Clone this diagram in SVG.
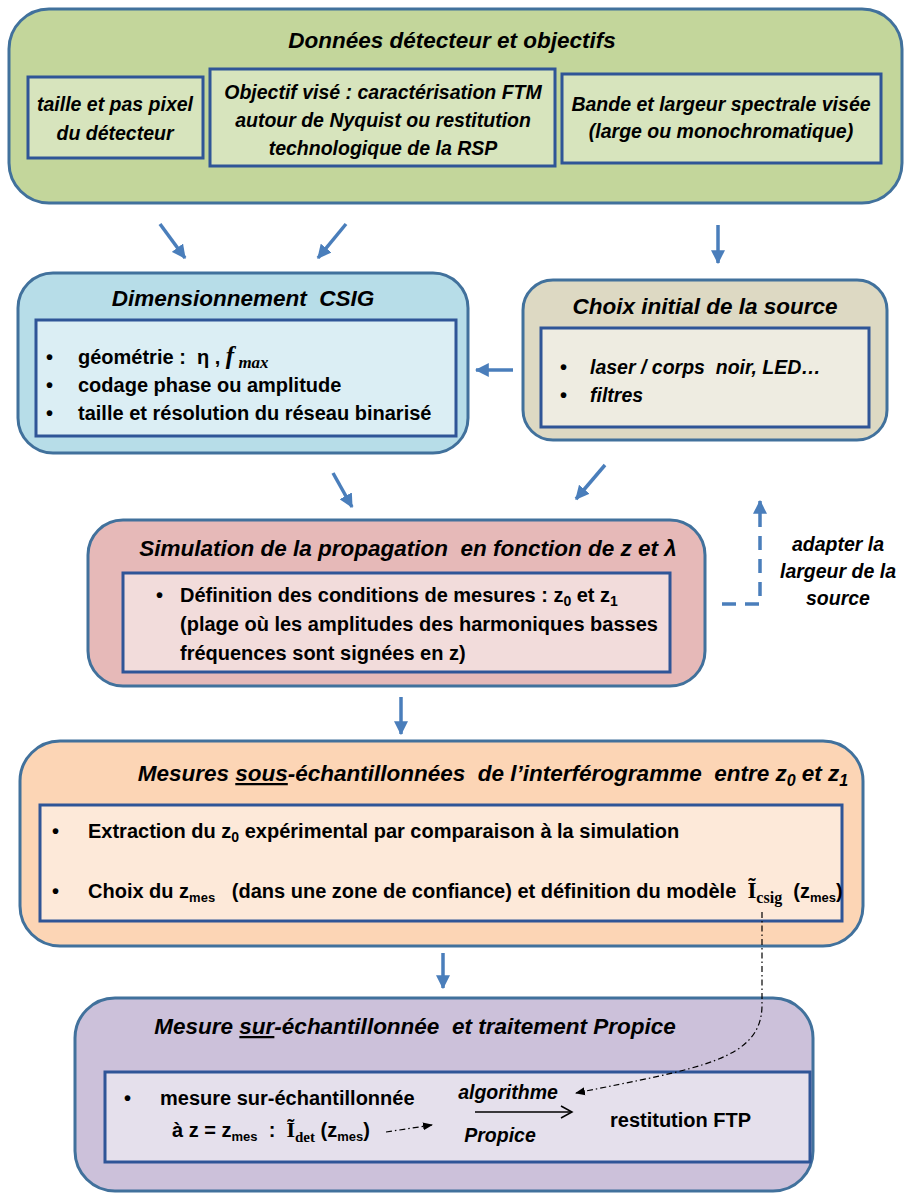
<svg xmlns="http://www.w3.org/2000/svg" width="910" height="1193" viewBox="0 0 910 1193" xml:space="preserve">
<defs>
<style>
.outer{stroke:#41719c;stroke-width:3}
.inner{stroke:#2f5597;stroke-width:3}
text{font-family:"Liberation Sans",Arial,sans-serif;fill:#000;white-space:pre}
.t{font-weight:bold;font-style:italic;font-size:22.5px;text-anchor:middle}
.it{font-weight:bold;font-style:italic;font-size:19.5px;text-anchor:middle}
.b{font-weight:bold;font-size:20px}
.bi{font-weight:bold;font-style:italic;font-size:19.5px}
.m{font-family:"Liberation Serif","DejaVu Serif",serif}
.blue{stroke:#4a7ebb;stroke-width:3.5;fill:none}
.dd{stroke:#000;stroke-width:1.2;fill:none;stroke-dasharray:6 3 1.5 3}
</style>
<marker id="bh" markerUnits="userSpaceOnUse" markerWidth="14" markerHeight="14" refX="11" refY="6" orient="auto" viewBox="0 0 12 12">
<path d="M0,0 L12,6 L0,12 Z" fill="#4a7ebb"/>
</marker>
<marker id="kh" markerUnits="userSpaceOnUse" markerWidth="10" markerHeight="10" refX="9" refY="4" orient="auto" viewBox="0 0 10 8">
<path d="M0,0 L10,4 L0,8 Z" fill="#000"/>
</marker>
<marker id="oh" markerUnits="userSpaceOnUse" markerWidth="14" markerHeight="14" refX="12" refY="7" orient="auto" viewBox="0 0 14 14">
<path d="M1,1 L12,7 L1,13" fill="none" stroke="#000" stroke-width="1.5"/>
</marker>
</defs>
<rect width="910" height="1193" fill="#fff"/>
<g id="donnees">
<rect class="outer" x="9" y="9" width="893" height="194" rx="40" fill="#c3d69b"/>
<text class="t" x="452" y="48">Données détecteur et objectifs</text>
<rect class="inner" x="28" y="77" width="175" height="81" fill="#d7e4bd"/>
<text class="it" x="115" y="111">taille et pas pixel</text>
<text class="it" x="115" y="140">du détecteur</text>
<rect class="inner" x="210" y="69" width="345" height="97" fill="#d7e4bd"/>
<text class="it" x="383" y="99">Objectif visé : caractérisation FTM</text>
<text class="it" x="383" y="127">autour de Nyquist ou restitution</text>
<text class="it" x="383" y="155">technologique de la RSP</text>
<rect class="inner" x="562" y="74" width="319" height="89" fill="#d7e4bd"/>
<text class="it" x="721" y="111">Bande et largeur spectrale visée</text>
<text class="it" x="721" y="138">(large ou monochromatique)</text>
</g>
<g id="csig">
<rect class="outer" x="18" y="273" width="450" height="180" rx="35" fill="#b7dde8"/>
<text class="t" x="243" y="306">Dimensionnement  CSIG</text>
<rect class="inner" x="36" y="320" width="420" height="116" fill="#dbeef4"/>
<text class="b" x="46" y="364">•</text>
<text class="b" x="78" y="364">géométrie :  η , <tspan class="m" font-style="italic" font-size="25">f</tspan><tspan class="m" font-style="italic" font-size="17" dy="4"> max</tspan></text>
<text class="b" x="46" y="392">•</text>
<text class="b" x="78" y="392">codage phase ou amplitude</text>
<text class="b" x="46" y="420">•</text>
<text class="b" x="78" y="420">taille et résolution du réseau binarisé</text>
</g>
<g id="source">
<rect class="outer" x="523" y="280" width="364" height="160" rx="30" fill="#ddd9c3"/>
<text class="t" x="705" y="314">Choix initial de la source</text>
<rect class="inner" x="541" y="328" width="328" height="99" fill="#eeece1"/>
<text class="b" x="560" y="374">•</text>
<text class="bi" x="590" y="374" font-size="18.5">laser / corps  noir, LED…</text>
<text class="b" x="560" y="402">•</text>
<text class="bi" x="590" y="402" font-size="18.5">filtres</text>
</g>
<g id="simulation">
<rect class="outer" x="88" y="520" width="617" height="166" rx="35" fill="#e6b9b8"/>
<text class="t" x="408" y="556" font-size="23">Simulation de la propagation  en fonction de z et λ</text>
<rect class="inner" x="123" y="573" width="547" height="99" fill="#f2dcdb"/>
<text class="b" x="156" y="602">•</text>
<text class="b" x="180" y="602">Définition des conditions de mesures : z<tspan font-size="14" dy="4">0</tspan><tspan dy="-4"> et z</tspan><tspan font-size="14" dy="4">1</tspan></text>
<text class="b" x="180" y="631">(plage où les amplitudes des harmoniques basses</text>
<text class="b" x="180" y="660">fréquences sont signées en z)</text>
</g>
<g id="adapter">
<text class="bi" x="838" y="551" text-anchor="middle">adapter la</text>
<text class="bi" x="838" y="578" text-anchor="middle">largeur de la</text>
<text class="bi" x="838" y="605" text-anchor="middle">source</text>
</g>
<g id="sous-echantillonnees">
<rect class="outer" x="20" y="741" width="843" height="205" rx="40" fill="#fcd5b5"/>
<text class="t" x="493" y="781" font-size="23">Mesures <tspan text-decoration="underline">sous</tspan>-échantillonnées  de l’interférogramme  entre z<tspan font-size="16" dy="5">0</tspan><tspan dy="-5"> et z</tspan><tspan font-size="16" dy="5">1</tspan></text>
<rect class="inner" x="40" y="805" width="802" height="116" fill="#fde9d9"/>
<text class="b" x="52" y="838">•</text>
<text class="b" x="88" y="838">Extraction du z<tspan font-size="14" dy="4">0</tspan><tspan dy="-4"> expérimental par comparaison à la simulation</tspan></text>
<text class="b" x="52" y="898">•</text>
<text class="b" x="88" y="898">Choix du z<tspan font-size="13" dy="4">mes</tspan><tspan dy="-4">   (dans une zone de confiance) et définition du modèle  </tspan><tspan class="m" font-size="23">Ĩ</tspan><tspan class="m" font-size="16" dy="5">csig</tspan><tspan dy="-5">  (z</tspan><tspan font-size="13" dy="4">mes</tspan><tspan dy="-4">)</tspan></text>
</g>
<g id="sur-echantillonnee">
<rect class="outer" x="75" y="998" width="738" height="193" rx="40" fill="#ccc1da"/>
<text class="t" x="415" y="1034">Mesure <tspan text-decoration="underline">sur</tspan>-échantillonnée  et traitement Propice</text>
<rect class="inner" x="105" y="1072" width="705" height="90" fill="#e5e0ec"/>
<text class="b" x="124" y="1105">•</text>
<text class="b" x="160" y="1105">mesure sur-échantillonnée</text>
<text class="b" x="172" y="1137">à z = z<tspan font-size="13" dy="4">mes</tspan><tspan dy="-4">  :  </tspan><tspan class="m" font-size="22">Ĩ</tspan><tspan class="m" font-size="15" dy="5">det</tspan><tspan dy="-5"> (z</tspan><tspan font-size="13" dy="4">mes</tspan><tspan dy="-4">)</tspan></text>
<text class="bi" x="508" y="1099" text-anchor="middle">algorithme</text>
<text class="bi" x="500" y="1142" text-anchor="middle">Propice</text>
<text class="b" x="610" y="1127" font-size="18.5">restitution FTP</text>
</g>
<g id="connectors">
<line class="blue" x1="160" y1="224" x2="185" y2="258" marker-end="url(#bh)"/>
<line class="blue" x1="346" y1="224" x2="318" y2="258" marker-end="url(#bh)"/>
<line class="blue" x1="718" y1="225" x2="718" y2="263" marker-end="url(#bh)"/>
<line class="blue" x1="513" y1="370" x2="476" y2="370" marker-end="url(#bh)"/>
<line class="blue" x1="333" y1="473" x2="352" y2="507" marker-end="url(#bh)"/>
<line class="blue" x1="605" y1="465" x2="576" y2="499" marker-end="url(#bh)"/>
<line class="blue" x1="401" y1="697" x2="401" y2="734" marker-end="url(#bh)"/>
<line class="blue" x1="443" y1="953" x2="443" y2="988" marker-end="url(#bh)"/>
<path class="blue" d="M722,604 H760 V501" stroke-dasharray="14 9" marker-end="url(#bh)"/>
<path class="dd" d="M762,912 V1005 C762,1060 700,1068 576,1093" marker-end="url(#kh)"/>
<line class="dd" x1="386" y1="1132" x2="432" y2="1125" marker-end="url(#kh)"/>
<line x1="475" y1="1112" x2="572" y2="1112" stroke="#000" stroke-width="1.5" marker-end="url(#oh)"/>
</g>
</svg>
